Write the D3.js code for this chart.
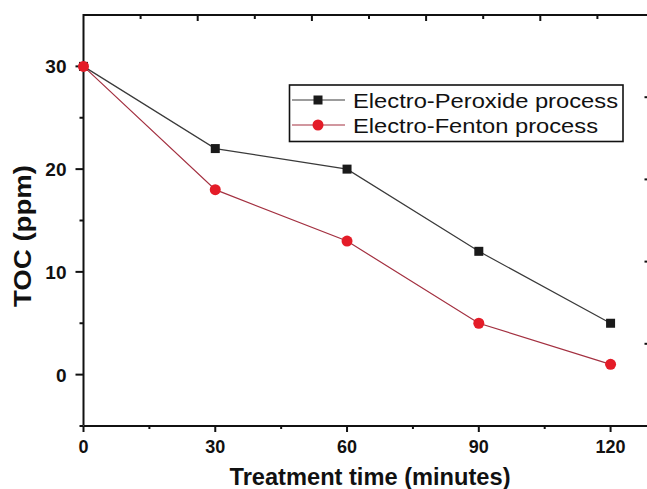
<!DOCTYPE html>
<html><head><meta charset="utf-8">
<script src="https://cdn.jsdelivr.net/npm/d3@7"></script>
<style>html,body{margin:0;padding:0;background:#fff;overflow:hidden}</style>
</head><body>
<svg id="chart" width="647" height="489"></svg>
<script>
const times = [0, 30, 60, 90, 120];
const peroxide = [30, 22, 20, 12, 5];
const fenton = [30, 18, 13, 5, 1];
const seriesNames = ["Electro-Peroxide process", "Electro-Fenton process"];
const xTicks = [0, 30, 60, 90, 120];
const xMinorTicks = [15, 45, 75, 105];
const yTicks = [0, 10, 20, 30];
const yMinorTicks = [-5, 5, 15, 25];
const topTicks = [13, 26, 39, 52, 65, 78, 91, 104, 117];
const rightTicks = [3, 11, 19, 27];

const svg = d3.select("#chart");
const font = "'Liberation Sans', Arial, sans-serif";
const x = d3.scaleLinear().domain([0, 130]).range([83.5, 654.5]);
const y = d3.scaleLinear().domain([-5, 35]).range([426, 15]);

// frame
const ax = svg.append("g").attr("stroke", "#111").attr("stroke-width", 2).attr("fill", "none");
ax.append("line").attr("x1", x(0)).attr("x2", x(130)).attr("y1", y(-5)).attr("y2", y(-5));
ax.append("line").attr("x1", x(0)).attr("x2", x(130)).attr("y1", y(35)).attr("y2", y(35));
ax.append("line").attr("x1", x(0)).attr("x2", x(0)).attr("y1", y(-5)-1).attr("y2", y(35)-1);
ax.append("line").attr("x1", x(130)).attr("x2", x(130)).attr("y1", y(-5)).attr("y2", y(35));

// left ticks
ax.selectAll(".ymaj").data(yTicks).join("line")
  .attr("x1", x(0) - 8).attr("x2", x(0)).attr("y1", d => y(d)).attr("y2", d => y(d));
ax.selectAll(".ymin").data(yMinorTicks).join("line").attr("class","ymin")
  .attr("x1", x(0) - 4).attr("x2", x(0)).attr("y1", d => y(d)).attr("y2", d => y(d));
// bottom ticks
ax.selectAll(".xmaj").data(xTicks).join("line").attr("class","xmaj")
  .attr("x1", d => x(d)).attr("x2", d => x(d)).attr("y1", y(-5)).attr("y2", y(-5) + 6);
ax.selectAll(".xmin").data(xMinorTicks).join("line").attr("class","xmin")
  .attr("x1", d => x(d)).attr("x2", d => x(d)).attr("y1", y(-5)).attr("y2", y(-5) + 3);
// top ticks (inward)
ax.selectAll(".tt").data(topTicks).join("line").attr("class","tt")
  .attr("x1", d => x(d)).attr("x2", d => x(d)).attr("y1", y(35))
  .attr("y2", (d, i) => y(35) + (i % 2 ? 6 : 4));
// right ticks (inward)
ax.selectAll(".rt").data(rightTicks).join("line").attr("class","rt")
  .attr("x1", x(130) - 10).attr("x2", x(130)).attr("y1", d => y(d)).attr("y2", d => y(d));

// tick labels
svg.selectAll(".yl").data(yTicks).join("text").attr("class","yl")
  .attr("x", x(0) - 17).attr("y", d => y(d) + 7)
  .attr("text-anchor", "end").attr("font-family", font).attr("font-weight", "bold")
  .attr("font-size", 19).attr("fill", "#111").text(d => d);
svg.selectAll(".xl").data(xTicks).join("text").attr("class","xl")
  .attr("x", d => x(d)).attr("y", 453)
  .attr("text-anchor", "middle").attr("font-family", font).attr("font-weight", "bold")
  .attr("font-size", 18).attr("fill", "#111").text(d => d);

// axis titles
svg.append("text").attr("x", 370).attr("y", 485).attr("text-anchor", "middle")
  .attr("font-family", font).attr("font-weight", "bold").attr("font-size", 23)
  .attr("fill", "#111").attr("textLength", 281).attr("lengthAdjust", "spacingAndGlyphs")
  .text("Treatment time (minutes)");
svg.append("text").attr("transform", "translate(31,236) rotate(-90)").attr("text-anchor", "middle")
  .attr("font-family", font).attr("font-weight", "bold").attr("font-size", 24)
  .attr("fill", "#111").attr("textLength", 142).attr("lengthAdjust", "spacingAndGlyphs")
  .text("TOC (ppm)");

// series
const line = d3.line().x((d, i) => x(times[i])).y(d => y(d));
svg.append("path").datum(peroxide).attr("d", line).attr("fill", "none")
  .attr("stroke", "#3a3a3a").attr("stroke-width", 1.2);
svg.selectAll(".sq").data(peroxide).join("rect").attr("class","sq")
  .attr("x", (d, i) => x(times[i]) - 4.5).attr("y", d => y(d) - 4.5)
  .attr("width", 9).attr("height", 9).attr("fill", "#1a1a1a");
svg.append("path").datum(fenton).attr("d", line).attr("fill", "none")
  .attr("stroke", "#a33040").attr("stroke-width", 1.2);
svg.selectAll(".ci").data(fenton).join("circle").attr("class","ci")
  .attr("cx", (d, i) => x(times[i])).attr("cy", d => y(d)).attr("r", 5.5).attr("fill", "#e41c28");

// legend
const lg = svg.append("g");
lg.append("rect").attr("x", 289.5).attr("y", 85).attr("width", 333.5).attr("height", 56.5)
  .attr("fill", "#fff").attr("stroke", "#111").attr("stroke-width", 1.6);
const rows = [100, 125];
lg.append("line").attr("x1", 292).attr("x2", 345).attr("y1", rows[0]).attr("y2", rows[0])
  .attr("stroke", "#3a3a3a").attr("stroke-width", 1.2);
lg.append("rect").attr("x", 318 - 4.5).attr("y", rows[0] - 4.5).attr("width", 9).attr("height", 9).attr("fill", "#1a1a1a");
lg.append("line").attr("x1", 292).attr("x2", 345).attr("y1", rows[1]).attr("y2", rows[1])
  .attr("stroke", "#a33040").attr("stroke-width", 1.2);
lg.append("circle").attr("cx", 318).attr("cy", rows[1]).attr("r", 5.5).attr("fill", "#e41c28");
const lens = [265, 245];
lg.selectAll(".lt").data(seriesNames).join("text").attr("class","lt")
  .attr("x", 353).attr("y", (d, i) => rows[i] + 7.5)
  .attr("font-family", font).attr("font-size", 21).attr("fill", "#111")
  .attr("textLength", (d, i) => lens[i]).attr("lengthAdjust", "spacingAndGlyphs").text(d => d);
</script>
</body></html>
